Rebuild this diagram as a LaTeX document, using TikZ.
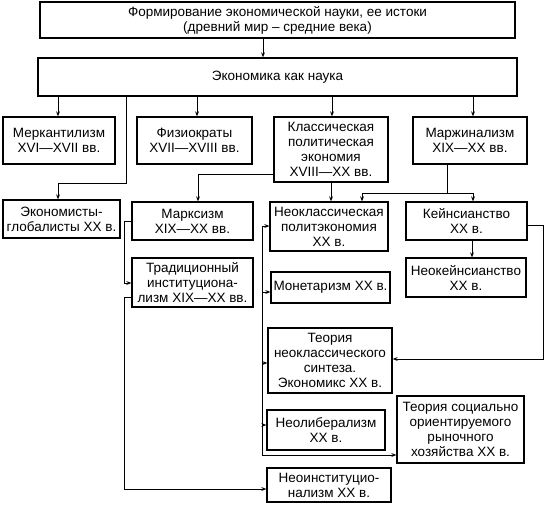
\documentclass[tikz,border=0pt]{standalone}
\usepackage{fontspec}
\setmainfont{Liberation Sans}
\usetikzlibrary{arrows.meta}
\tikzset{
  box/.style={draw, line width=1.2pt, align=center, inner sep=0pt, font=\fontsize{13.5}{15}\selectfont},
  conn/.style={line width=1pt},
  arr/.style={conn, -{Stealth[length=5pt,width=3.8pt]}}
}
\begin{document}
\begin{tikzpicture}[x=1pt,y=-1pt]
\useasboundingbox[fill=white] (0,0) rectangle (544,504);
% boxes
\node[box, minimum width=475pt, minimum height=36pt] (top) at (277.5,20) {Формирование экономической науки, ее истоки\\(древний мир – средние века)};
\node[box, minimum width=479pt, minimum height=38pt] (econ) at (277.5,77) {Экономика как наука};
\node[box, minimum width=112pt, minimum height=47pt] (merc) at (59,140.5) {Меркантилизм\\XVI—XVII вв.};
\node[box, minimum width=115pt, minimum height=47pt] (phys) at (194.5,140.5) {Физиократы\\XVII—XVIII вв.};
\node[box, minimum width=114pt, minimum height=65pt] (class) at (331,149.5) {Классическая\\политическая\\экономия\\XVIII—XX вв.};
\node[box, minimum width=114pt, minimum height=47pt] (marg) at (470,140.5) {Маржинализм\\XIX—XX вв.};
\node[box, minimum width=117pt, minimum height=38pt] (glob) at (61.5,219) {Экономисты-\\глобалисты XX в.};
\node[box, minimum width=121pt, minimum height=38pt] (marx) at (192.5,221) {Марксизм\\XIX—XX вв.};
\node[box, minimum width=118pt, minimum height=49pt] (neocl) at (329,226.5) {Неоклассическая\\политэкономия\\XX в.};
\node[box, minimum width=121pt, minimum height=38pt] (keyn) at (466.5,221) {Кейнсианство\\XX в.};
\node[box, minimum width=121pt, minimum height=49pt] (trad) at (192.5,282.5) {Традиционный\\институциона-\\лизм XIX—XX вв.};
\node[box, minimum width=119pt, minimum height=31pt] (monet) at (330.5,287.5) {Монетаризм XX в.};
\node[box, minimum width=120pt, minimum height=39pt] (neokeyn) at (466,277.5) {Неокейнсианство\\XX в.};
\node[box, minimum width=124pt, minimum height=65pt] (synth) at (330,360.5) {Теория\\неоклассического\\синтеза.\\Экономикс XX в.};
\node[box, minimum width=118pt, minimum height=40pt] (neolib) at (326,430) {Неолиберализм\\XX в.};
\node[box, minimum width=127pt, minimum height=67pt] (social) at (460.5,429.5) {Теория социально\\ориентируемого\\рыночного\\хозяйства XX в.};
\node[box, minimum width=124pt, minimum height=34pt] (neoinst) at (329,485) {Неоинституцио-\\нализм XX в.};
% guide coordinates
\coordinate (xtop) at (263,0);
\coordinate (xmerc) at (58,0);
\coordinate (xphys) at (197,0);
\coordinate (xclass) at (332,0);
\coordinate (xmarg) at (473,0);
\coordinate (xcl2) at (331,0);
\coordinate (xnk) at (472,0);
\coordinate (g1) at (126,183);
\coordinate (g2) at (58,183);
\coordinate (cm) at (198,174);
\coordinate (mg) at (447,193);
\coordinate (mgL) at (362,193);
\coordinate (mgR) at (473,193);
\coordinate (kr1) at (543,225);
\coordinate (kr2) at (543,359);
\coordinate (mt1) at (124,221);
\coordinate (mt2) at (124,283);
\coordinate (ti1) at (124,297);
\coordinate (ti2) at (124,489);
\coordinate (bt) at (262,226);
\coordinate (bm) at (262,292);
\coordinate (bs) at (262,363);
\coordinate (bn) at (262,425);
\coordinate (bb) at (262,455);
% connectors
\draw[arr] (top.south -| xtop) -- (econ.north -| xtop);
\draw[arr] (econ.south -| xmerc) -- (merc.north -| xmerc);
\draw[arr] (econ.south -| g1) -- (g1) -- (g2) -- (glob.north -| g2);
\draw[arr] (econ.south -| xphys) -- (phys.north -| xphys);
\draw[arr] (econ.south -| xclass) -- (class.north -| xclass);
\draw[arr] (econ.south -| xmarg) -- (marg.north -| xmarg);
\draw[arr] (class.west |- cm) -- (cm) -- (marx.north -| cm);
\draw[arr] (class.south -| xcl2) -- (neocl.north -| xcl2);
\draw[conn] (marg.south -| mg) -- (mg);
\draw[arr] (mg) -- (mgL) -- (neocl.north -| mgL);
\draw[arr] (mg) -- (mgR) -- (keyn.north -| mgR);
\draw[arr] (keyn.south -| xnk) -- (neokeyn.north -| xnk);
\draw[arr] (keyn.east |- kr1) -- (kr1) -- (kr2) -- (synth.east |- kr2);
\draw[arr] (marx.west |- mt1) -- (mt1) -- (mt2) -- (trad.west |- mt2);
\draw[arr] (trad.west |- ti1) -- (ti1) -- (ti2) -- (neoinst.west |- ti2);
\draw[conn] (bt) -- (bb);
\draw[arr] (bt) -- (neocl.west |- bt);
\draw[arr] (bm) -- (monet.west |- bm);
\draw[arr] (bs) -- (synth.west |- bs);
\draw[arr] (bn) -- (neolib.west |- bn);
\draw[arr] (bb) -- (social.west |- bb);
\end{tikzpicture}
\end{document}
